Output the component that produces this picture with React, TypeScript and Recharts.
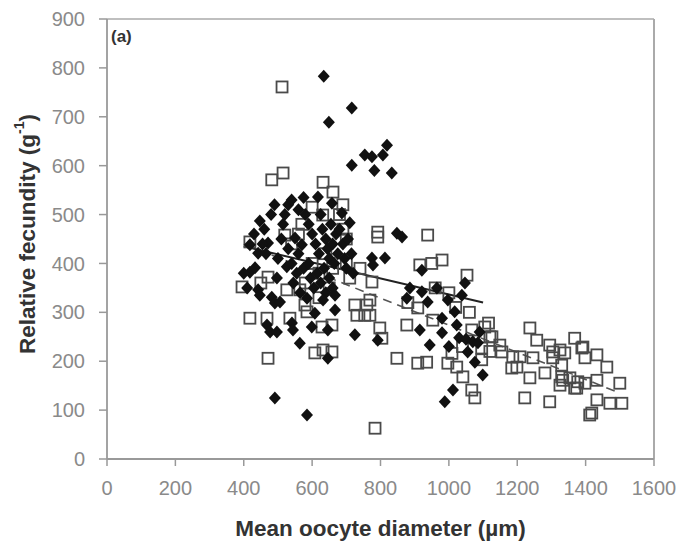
import React from "react";
import {
  ReferenceLine,
  Scatter,
  ScatterChart,
  XAxis,
  YAxis,
} from "recharts";

// filled diamonds: [diameter, fecundity]
const filledPoints: [number, number][] = [
  [634, 783], [649, 689], [716, 718], [716, 601], [754, 622], [775, 618],
  [782, 590], [807, 622], [819, 642], [833, 585], [848, 462], [863, 454],
  [418, 438], [442, 421], [447, 487], [471, 442], [418, 382], [433, 391],
  [442, 346], [447, 335], [482, 331], [491, 319], [506, 321], [497, 370],
  [526, 393], [468, 274], [477, 260], [497, 260], [541, 278], [544, 264],
  [564, 237], [491, 125], [585, 90], [400, 380], [410, 350], [430, 460],
  [455, 440], [460, 470], [465, 420], [480, 500], [490, 520], [500, 410],
  [510, 450], [515, 480], [520, 500], [530, 520], [540, 530], [550, 452],
  [560, 510], [570, 438], [575, 535], [580, 500], [590, 480], [600, 460],
  [610, 440], [617, 536], [620, 420], [625, 500], [630, 470], [640, 450],
  [645, 430], [650, 410], [655, 480], [658, 523], [660, 440], [665, 400],
  [670, 460], [675, 420], [680, 470], [687, 503], [690, 440], [695, 410],
  [700, 390], [705, 450], [710, 483], [715, 420], [720, 380], [530, 430],
  [540, 400], [545, 360], [555, 380], [560, 420], [565, 340], [575, 390],
  [590, 400], [595, 370], [605, 350], [615, 380], [625, 360], [635, 390],
  [640, 340], [650, 370], [660, 350], [585, 329], [632, 325], [667, 335],
  [667, 305], [608, 298], [599, 270], [646, 264], [725, 254], [646, 206],
  [775, 411], [778, 397], [813, 411], [921, 386], [1047, 360], [886, 350],
  [921, 342], [965, 350], [877, 329], [938, 321], [997, 325], [1038, 335],
  [1017, 301], [980, 288], [1023, 274], [915, 264], [980, 258], [792, 243],
  [1030, 248], [1050, 245], [1070, 240], [1085, 238], [944, 233], [1055, 219],
  [1076, 198], [1099, 172], [1012, 141], [988, 117], [1090, 260], [1000, 230],
];

// open squares: [diameter, fecundity]
const openPoints: [number, number][] = [
  [512, 761], [482, 571], [515, 585], [632, 566], [661, 546], [600, 515],
  [631, 499], [792, 464], [792, 454], [938, 458], [915, 397], [950, 400],
  [980, 407], [1053, 376], [775, 362], [769, 325], [769, 294], [909, 309],
  [877, 274], [953, 284], [798, 268], [804, 247], [1067, 264], [1105, 270],
  [1120, 250], [1096, 227], [1009, 216], [997, 196], [848, 206], [909, 196],
  [935, 198], [1023, 188], [1041, 168], [1067, 141], [1076, 125], [784, 63],
  [520, 458], [395, 352], [471, 372], [526, 346], [564, 346], [579, 315],
  [585, 301], [725, 315], [760, 315], [731, 294], [754, 294], [418, 288],
  [468, 288], [535, 288], [629, 270], [658, 274], [608, 217], [632, 223],
  [658, 219], [471, 206], [418, 444], [1126, 250], [1149, 233], [1155, 219],
  [1237, 268], [1257, 243], [1295, 233], [1304, 219], [1325, 223], [1339, 217],
  [1368, 247], [1389, 227], [1187, 209], [1208, 209], [1246, 207], [1184, 186],
  [1199, 188], [1237, 166], [1281, 176], [1304, 207], [1330, 192], [1330, 168],
  [1325, 151], [1354, 166], [1377, 158], [1374, 145], [1222, 125], [1295, 117],
  [1412, 90], [1392, 229], [1398, 207], [1433, 213], [1462, 188], [1333, 161],
  [1368, 145], [1398, 155], [1433, 161], [1500, 155], [1433, 121], [1471, 114],
  [1506, 114], [1418, 94], [1116, 278], [1096, 203], [700, 450], [690, 470],
  [680, 500], [560, 460], [570, 480], [600, 400], [620, 380], [640, 420],
  [660, 390], [700, 400], [710, 370], [540, 440], [450, 360], [690, 520],
  [650, 350], [620, 330], [580, 360], [740, 390], [880, 320], [960, 350],
  [1000, 340], [1020, 310], [1060, 300], [1040, 230], [1120, 220],
];

const xTicks = [0, 200, 400, 600, 800, 1000, 1200, 1400, 1600];
const yTicks = [0, 100, 200, 300, 400, 500, 600, 700, 800, 900];

// fitted lines, [x, y] end points
const filledFit: [number, number][] = [[400, 435], [1100, 320]];
const openFit: [number, number][] = [[400, 440], [1500, 135]];

const toXY = (pts: [number, number][]) => pts.map(([x, y]) => ({ x, y }));

const FONT = "Liberation Sans, Arial";

const Diamond = (props: any) => {
  const { cx, cy } = props;
  return (
    <polygon
      points={`${cx},${cy - 6.5} ${cx + 6},${cy} ${cx},${cy + 6.5} ${cx - 6},${cy}`}
      fill="#111"
    />
  );
};

const Square = (props: any) => {
  const { cx, cy } = props;
  return (
    <rect x={cx - 5.5} y={cy - 5.5} width={11} height={11} fill="none" stroke="#4a4a4a" strokeWidth={1.8} />
  );
};

const tickStyle = { fontSize: 20, fill: "#8a8a8a", fontFamily: FONT };

const YTitle = () => (
  <text
    x={19}
    y={226}
    transform="rotate(-90 19 226)"
    textAnchor="middle"
    dominantBaseline="central"
    fontSize={22.5}
    fontWeight="bold"
    fill="#333"
    fontFamily={FONT}
  >
    Relative fecundity (g
    <tspan dy={-8} fontSize={14}>-1</tspan>
    <tspan dy={8}>)</tspan>
  </text>
);

export default function App() {
  return (
    <div style={{ position: "relative", width: 676, height: 535 }}>
      <ScatterChart
        width={676}
        height={535}
        margin={{ top: 11, right: 30, bottom: 0, left: 0 }}
      >
        <XAxis
          type="number"
          dataKey="x"
          domain={[0, 1600]}
          ticks={xTicks}
          interval={0}
          height={84}
          tickSize={7}
          tickMargin={15}
          tick={tickStyle}
          axisLine={{ stroke: "#999", strokeWidth: 1.8 }}
          tickLine={{ stroke: "#999", strokeWidth: 1.5 }}
          label={{
            value: "Mean oocyte diameter (µm)",
            position: "insideBottom",
            offset: 7,
            style: { fontSize: 22.5, fontWeight: "bold", fill: "#333", fontFamily: FONT },
          }}
        />
        <YAxis
          type="number"
          dataKey="y"
          domain={[0, 900]}
          ticks={yTicks}
          interval={0}
          width={99}
          tickSize={8}
          tickMargin={14}
          tick={tickStyle}
          axisLine={{ stroke: "#999", strokeWidth: 1.8 }}
          tickLine={{ stroke: "#999", strokeWidth: 1.5 }}
          label={<YTitle />}
        />
        <ReferenceLine y={900} stroke="#aaa" strokeWidth={1.5} />
        <ReferenceLine x={1600} stroke="#aaa" strokeWidth={2} />
        <Scatter data={toXY(openPoints)} shape={Square} isAnimationActive={false} />
        <Scatter data={toXY(filledPoints)} shape={Diamond} isAnimationActive={false} />
        <ReferenceLine
          segment={toXY(openFit)}
          stroke="#555"
          strokeWidth={1.6}
          strokeDasharray="9 6"
        />
        <ReferenceLine segment={toXY(filledFit)} stroke="#222" strokeWidth={2} />
      </ScatterChart>
      <div
        style={{
          position: "absolute",
          left: 103,
          top: 20,
          fontSize: 17,
          fontWeight: "bold",
          color: "#333",
          fontFamily: FONT,
          lineHeight: 1,
        }}
      >
        (a)
      </div>
    </div>
  );
}
